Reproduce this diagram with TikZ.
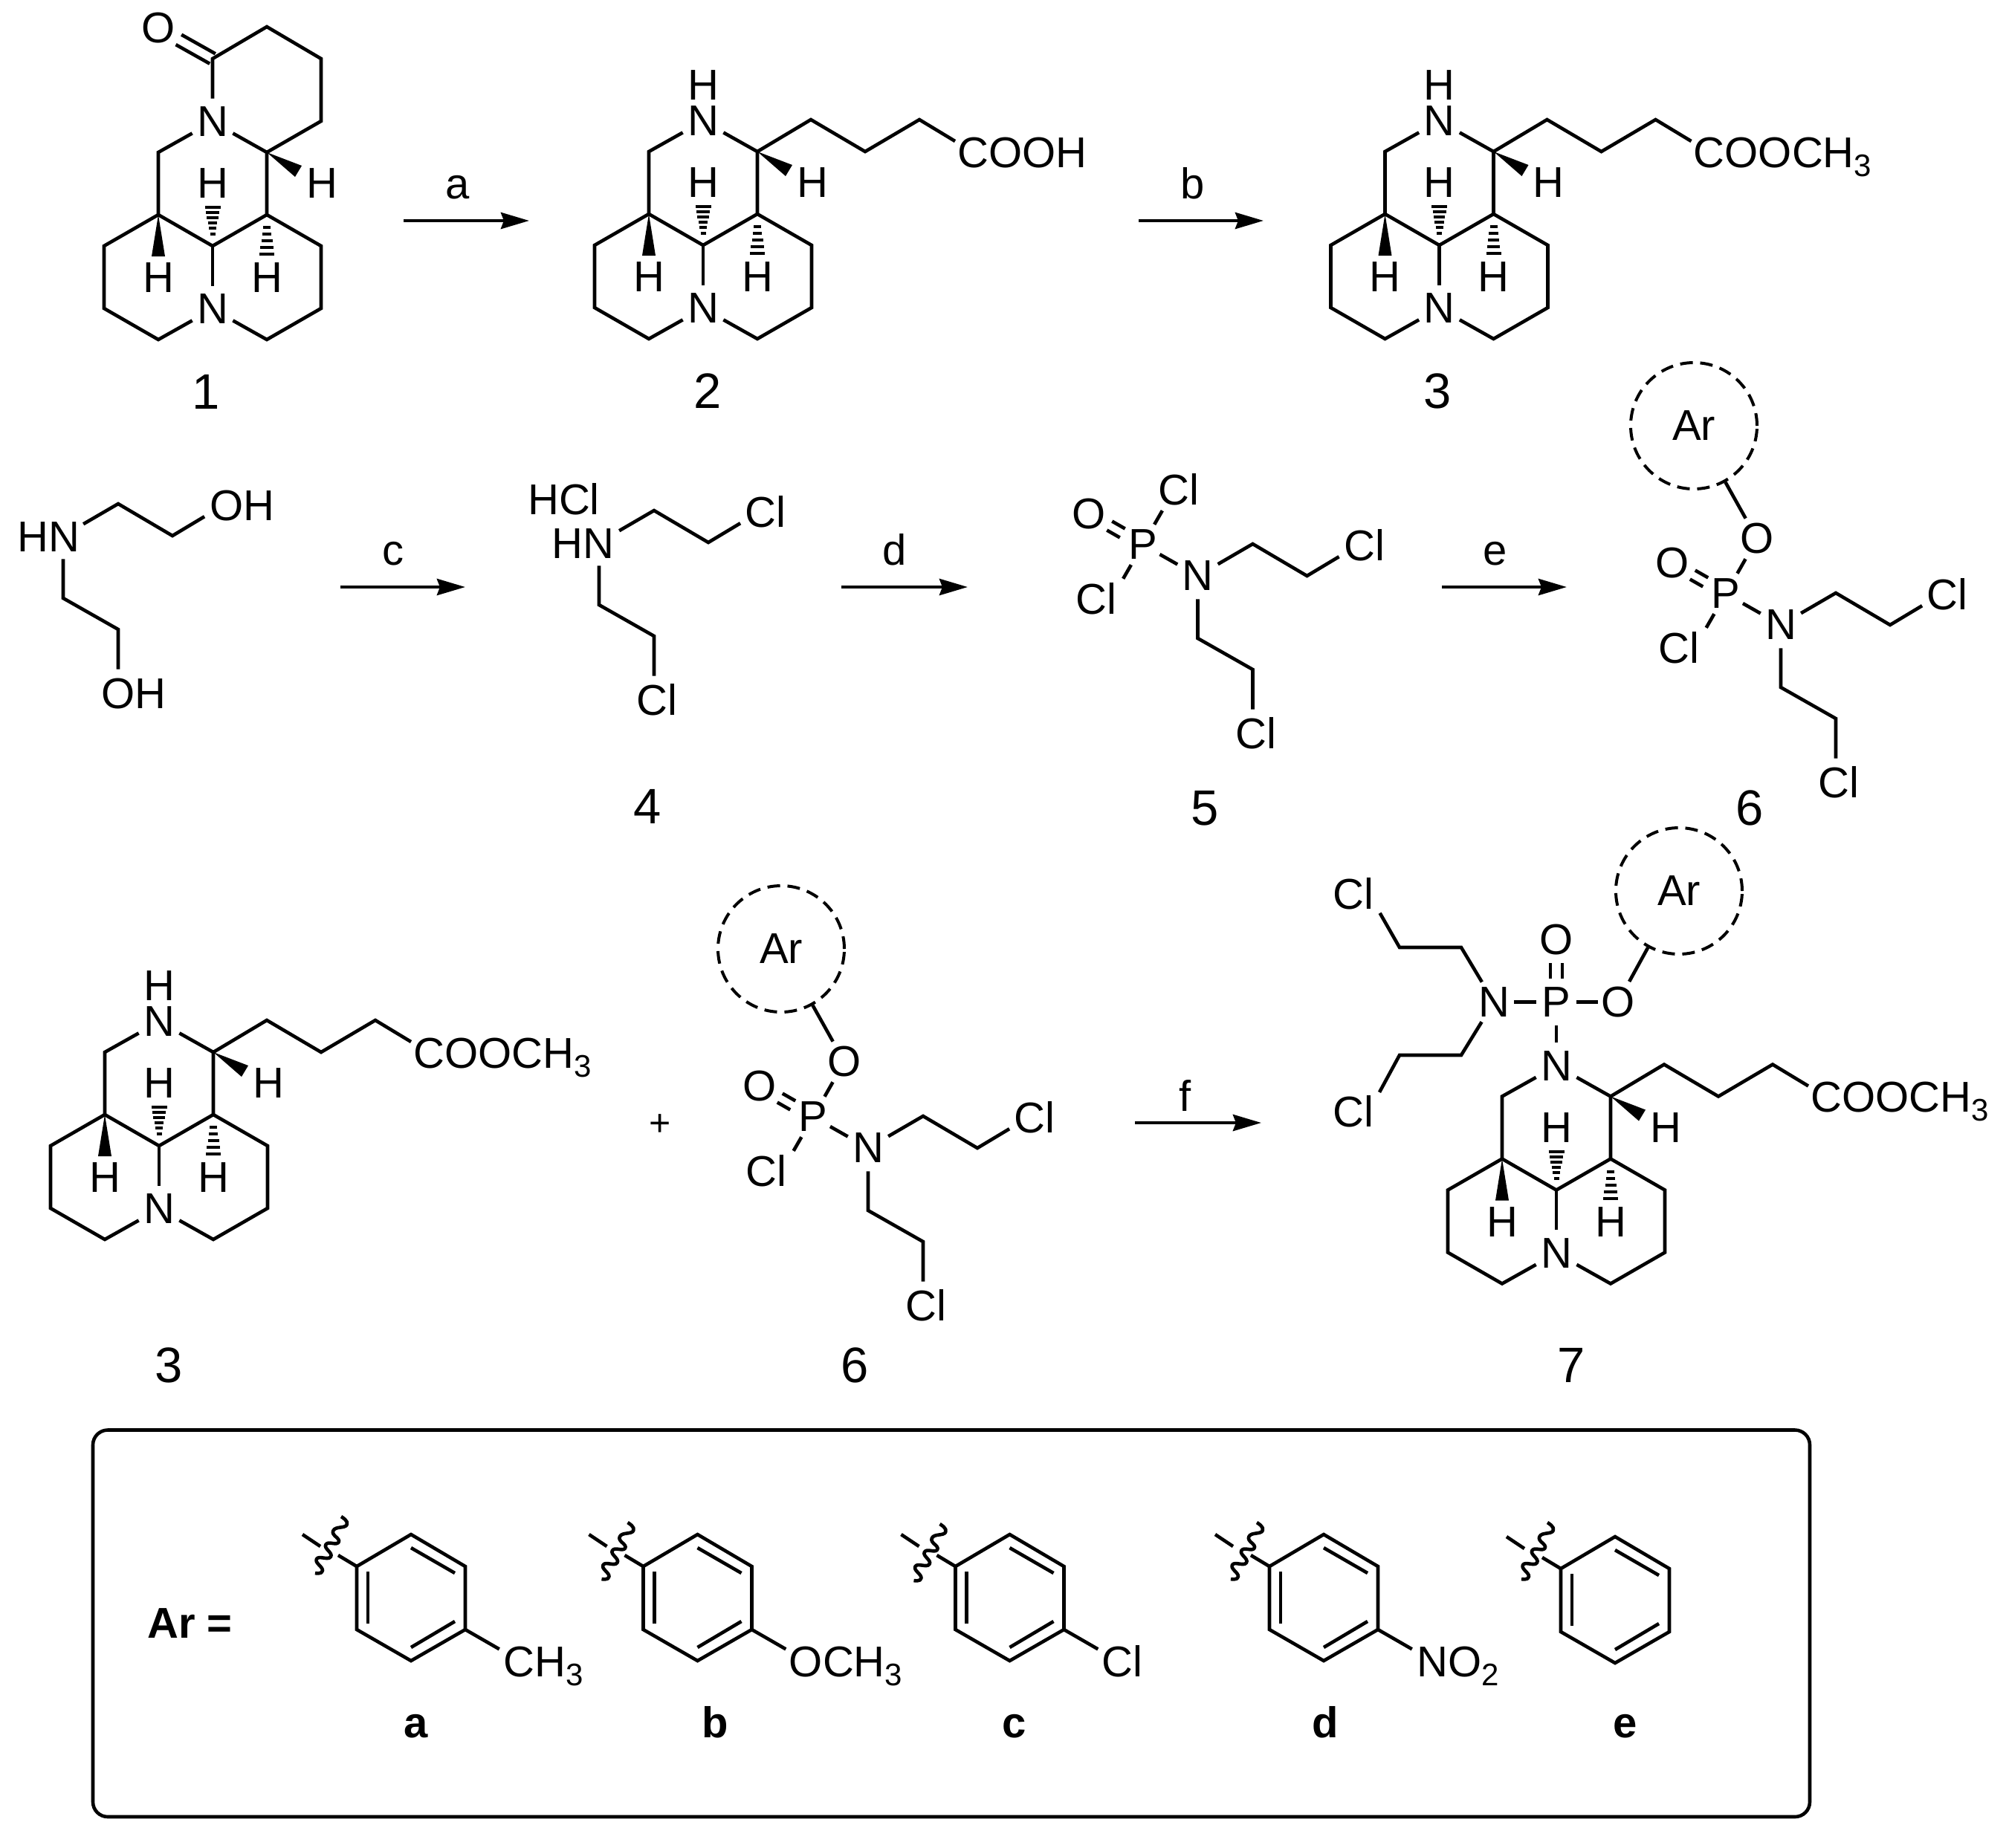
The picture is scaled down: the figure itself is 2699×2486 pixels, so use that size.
\documentclass[tikz,border=0pt]{standalone}
\usepackage{fontspec}
\setmainfont{Liberation Sans}
\usetikzlibrary{arrows.meta,calc}
\newcommand{\atomfont}{\fontsize{29}{30}\selectfont}
\newcommand{\numfont}{\fontsize{33.5}{34}\selectfont}
\newcommand{\boldfont}{\fontsize{29}{30}\selectfont\bfseries}
\newcommand{\subs}[1]{\raisebox{-6pt}{\fontsize{21}{22}\selectfont #1}}
\tikzset{
  bond/.style={line width=2.3pt,line join=miter,line cap=butt},
  hashline/.style={line width=2pt},
  atom/.style={circle,inner sep=0pt,minimum size=31pt,font=\atomfont},
  site/.style={circle,inner sep=0pt,minimum size=31pt},
  lbl/.style={inner sep=0pt,font=\atomfont},
  num/.style={inner sep=0pt,font=\numfont,anchor=base},
  boldlbl/.style={inner sep=0pt,font=\boldfont,anchor=base},
  arcirc/.style={circle,draw,inner sep=0pt,minimum size=85pt,font=\atomfont,line width=2pt,dash pattern=on 8.5pt off 5pt},
  rxn/.style={line width=2.3pt,-{Stealth[length=19pt,width=11pt,inset=2pt]}},
  panel/.style={draw,rounded corners=10pt,line width=2.3pt,minimum width=1155pt,minimum height=260.25pt,inner sep=0pt},
}
% tricyclic skeleton, origin at the central carbon
\newcommand{\skel}[1]{%
  \coordinate (#1cc) at (0,0);
  \coordinate (#1bl) at (-73,-42);
  \coordinate (#1br) at (73,-42);
  \coordinate (#1cl) at (-73,-126);
  \coordinate (#1cr) at (73,-126);
  \coordinate (#1l1) at (-146,0);
  \coordinate (#1l2) at (-146,84);
  \coordinate (#1l3) at (-73,126);
  \coordinate (#1r3) at (73,126);
  \coordinate (#1r2) at (146,84);
  \coordinate (#1r1) at (146,0);
  \node[atom] (#1nb) at (0,85) {N};
  \node[atom] (#1nt) at (0,-167) {N};
  \draw[bond] (#1nt) -- (#1cl) -- (#1bl) -- (#1l1) -- (#1l2) -- (#1l3) -- (#1nb);
  \draw[bond] (#1nb) -- (#1r3) -- (#1r2) -- (#1r1) -- (#1br) -- (#1cr) -- (#1nt);
  \draw[bond] (#1bl) -- (#1cc) -- (#1br);
  \draw[bond] (#1cc) -- (#1nb);
  \fill (#1cr) -- ++(47,18) -- ++(-9,15) -- cycle;
  \fill (#1bl) -- ++(-9,56) -- ++(18,0) -- cycle;
  \foreach \yy/\hw in {-52/10.5,-45/9,-38/7.7,-31/6.3,-24/5,-16/3.5}
    \draw[hashline] ($(#1cc)+(-\hw,\yy)$) -- ($(#1cc)+(\hw,\yy)$);
  \foreach \yy/\hw in {17/5,26/6.2,35/7.5,44/8.8,53/10}
    \draw[hashline] ($(#1br)+(-\hw,\yy)$) -- ($(#1br)+(\hw,\yy)$);
  \node[lbl] (#1ha) at (0,-84) {H};
  \node[lbl] (#1hb) at (147,-84) {H};
  \node[lbl] (#1hc) at (-73,43) {H};
  \node[lbl] (#1hd) at (73,43) {H};
}
% four-carbon side chain on the ring carbon cr
\newcommand{\sidechain}[2]{%
  \coordinate (#1c1) at (145,-169);
  \coordinate (#1c2) at (218,-126);
  \coordinate (#1c3) at (291,-169);
  \coordinate (#1ce) at (339,-140);
  \draw[bond] (#1cr) -- (#1c1) -- (#1c2) -- (#1c3) -- (#1ce);
  \node[lbl,anchor=base west] (#1tail) at (342,-105) {#2};
}
% the two chloroethyl-type arms on a nitrogen node (#1n), origin at that nitrogen
\newcommand{\arms}[5]{%
  \coordinate (#1a1) at (74,-43);
  \coordinate (#1a2) at (147,0);
  \node[site] (#1as) at (217,-42) {};
  \coordinate (#1b1) at (0,84);
  \coordinate (#1b2) at (74,126);
  \node[site] (#1bs) at (74,211) {};
  \draw[bond] (#1n) -- (#1a1) -- (#1a2) -- (#1as);
  \draw[bond] (#1n) -- (#1b1) -- (#1b2) -- (#1bs);
  \node[lbl,anchor=base] (#1at) at (#3,-21) {#2};
  \node[lbl,anchor=base] (#1bt) at (#5,232) {#4};
}
% phosphoryl core, origin at P
\newcommand{\pcore}[1]{%
  \node[atom] (#1p) at (0,0) {P};
  \node[atom] (#1o) at (-72,-41) {O};
  \node[site] (#1cs) at (-42,73) {};
  \node[lbl] (#1ct) at (-63,73) {Cl};
  \draw[bond,transform canvas={shift={(3.5,-6)}}] (#1p) -- (#1o);
  \draw[bond,transform canvas={shift={(-3.5,6)}}] (#1p) -- (#1o);
  \draw[bond] (#1p) -- (#1cs);
  \begin{scope}[shift={(74,42)}]
    \node[atom] (#1n) at (0,0) {N};
    \arms{#1}{Cl}{224}{Cl}{78}
  \end{scope}
  \draw[bond,shorten <=-2.5pt] (#1p) -- (#1n);
}
% Ar-O-phosphoryl compound 6, origin at P
\newcommand{\csix}[1]{%
  \pcore{#1}
  \node[atom] (#1e) at (42,-74) {O};
  \node[arcirc] (#1ar) at (-43,-226) {Ar};
  \draw[bond] (#1p) -- (#1e);
  \draw[bond] (#1e) -- (#1ar);
}
% aryl ring with the cut mark, origin at ring centre
\newcommand{\benz}[3]{%
  \coordinate (#1t) at (0,-85);
  \coordinate (#1ur) at (73,-42);
  \coordinate (#1lr) at (73,43);
  \coordinate (#1bt) at (0,85);
  \coordinate (#1ll) at (-73,43);
  \coordinate (#1ul) at (-73,-42);
  \draw[bond] (#1t) -- (#1ur) -- (#1lr) -- (#1bt) -- (#1ll) -- (#1ul) -- cycle;
  \coordinate (#1i1) at (-58,-35);
  \coordinate (#1i2) at (-58,35);
  \coordinate (#1i3) at (0,-67);
  \coordinate (#1i4) at (59,-33);
  \coordinate (#1i5) at (0,67);
  \coordinate (#1i6) at (59,32);
  \draw[bond] (#1i1) -- (#1i2);
  \draw[bond] (#1i3) -- (#1i4);
  \draw[bond] (#1i5) -- (#1i6);
  \coordinate (#1k1) at (-98,-57);
  \coordinate (#1k2) at (-146,-85);
  \coordinate (#1k3) at (-122,-69);
  \draw[bond] (#1ul) -- (#1k1);
  \draw[bond] (#1k2) -- (#1k3);
  \begin{scope}[shift={(-94+#2,-109+#3)}]
    \draw[bond,line join=round] plot[smooth,tension=1] coordinates
      {(0,0) (7.7,11) (-10.7,19) (-3.3,34.3) (-20.7,37.7) (-14,54) (-33,57) (-25,72.7) (-35,76)};
  \end{scope}
}
\begin{document}
\begin{tikzpicture}[x=0.5pt,y=-0.5pt]
\useasboundingbox (0,0) rectangle (2699,2486);

% ---- compound 1
\begin{scope}[shift={(286,331)}]
  \skel{A}
  \coordinate (Ac) at (0,-252);
  \coordinate (At) at (73,-295);
  \coordinate (Au) at (146,-252);
  \coordinate (Av) at (146,-168);
  \node[atom] (Ao) at (-73,-293) {O};
  \draw[bond] (Ant) -- (Ac) -- (At) -- (Au) -- (Av) -- (Acr);
  \draw[bond,transform canvas={shift={(3.8,-6.7)}}] (Ac) -- (Ao);
  \draw[bond,transform canvas={shift={(-3.8,6.7)}}] (Ac) -- (Ao);
\end{scope}
\node[num] (n1) at (277,550) {1};

% ---- compound 2
\begin{scope}[shift={(946,330)}]
  \skel{B}
  \sidechain{B}{COOH}
  \node[lbl] (Bh) at (0,-215) {H};
\end{scope}
\node[num] (n2) at (952,549) {2};

% ---- compound 3
\begin{scope}[shift={(1936.5,330)}]
  \skel{C}
  \sidechain{C}{COOCH\subs{3}}
  \node[lbl] (Ch) at (0,-215) {H};
\end{scope}
\node[num] (n3) at (1934,549) {3};

% ---- amine and compound 4
\begin{scope}[shift={(85,721)}]
  \node[site] (Dn) at (0,0) {};
  \node[lbl,anchor=base] (Dnt) at (-19.5,21) {HN};
  \arms{D}{OH}{241}{OH}{94.5}
\end{scope}
\begin{scope}[shift={(806,730)}]
  \node[site] (En) at (0,0) {};
  \node[lbl,anchor=base] (Ent) at (-21.5,21) {HN};
  \node[lbl,anchor=base] (Ehc) at (-47.5,-38) {HCl};
  \arms{E}{Cl}{224}{Cl}{78}
\end{scope}
\node[num] (n4) at (871,1108) {4};

% ---- compound 5
\begin{scope}[shift={(1537.5,733)}]
  \pcore{F}
  \node[site] (Fe) at (42,-73) {};
  \node[lbl] (Fet) at (48,-74) {Cl};
  \draw[bond] (Fp) -- (Fe);
\end{scope}
\node[num] (n5) at (1621,1110) {5};

% ---- compound 6
\begin{scope}[shift={(2322,799)}]
  \csix{G}
\end{scope}
\node[num] (n6) at (2354,1110) {6};

% ---- second compound 3, plus, second compound 6
\begin{scope}[shift={(214,1542)}]
  \skel{H}
  \sidechain{H}{COOCH\subs{3}}
  \node[lbl] (Hh) at (0,-215) {H};
\end{scope}
\node[num] (n3b) at (227,1860) {3};
\node[inner sep=0pt,font=\fontsize{25}{26}\selectfont] (plus) at (888,1514) {+};
\begin{scope}[shift={(1094,1503)}]
  \csix{I}
\end{scope}
\node[num] (n6b) at (1150,1860) {6};

% ---- compound 7
\begin{scope}[shift={(2094,1601.5)}]
  \skel{J}
  \sidechain{J}{COOCH\subs{3}}
  \node[atom] (Jp) at (0,-253) {P};
  \node[atom] (Jo) at (0,-337) {O};
  \node[atom] (Jm) at (-84,-253) {N};
  \node[atom] (Je) at (83,-253) {O};
  \node[arcirc] (Jar) at (165,-402.5) {Ar};
  \draw[bond,shorten <=-2pt,shorten >=-2pt] (Jm) -- (Jp);
  \draw[bond,shorten <=-2pt,shorten >=-2pt] (Jp) -- (Je);
  \draw[bond] (Jp) -- (Jnt);
  \draw[bond] (Je) -- (Jar);
  \draw[bond,transform canvas={shift={(8,0)}}] (Jp) -- (Jo);
  \draw[bond,transform canvas={shift={(-8,0)}}] (Jp) -- (Jo);
  \coordinate (Ju1) at (-128,-326.5);
  \coordinate (Ju2) at (-211,-326.5);
  \node[site] (Jus) at (-253,-400) {};
  \node[lbl] (Jut) at (-273,-398.5) {Cl};
  \coordinate (Jd1) at (-128,-181.5);
  \coordinate (Jd2) at (-211,-181.5);
  \node[site] (Jds) at (-253,-104) {};
  \node[lbl] (Jdt) at (-273,-105.5) {Cl};
  \draw[bond] (Jm) -- (Ju1) -- (Ju2) -- (Jus);
  \draw[bond] (Jm) -- (Jd1) -- (Jd2) -- (Jds);
\end{scope}
\node[num] (n7) at (2114,1860) {7};

% ---- reaction arrows
\coordinate (ra1) at (543,297);  \coordinate (ra2) at (712,297);
\coordinate (rb1) at (1532,297); \coordinate (rb2) at (1700,297);
\coordinate (rc1) at (458,790);  \coordinate (rc2) at (626,790);
\coordinate (rd1) at (1132,790); \coordinate (rd2) at (1302,790);
\coordinate (re1) at (1940,790); \coordinate (re2) at (2108,790);
\coordinate (rf1) at (1527,1511);\coordinate (rf2) at (1697,1511);
\draw[rxn] (ra1) -- (ra2);
\draw[rxn] (rb1) -- (rb2);
\draw[rxn] (rc1) -- (rc2);
\draw[rxn] (rd1) -- (rd2);
\draw[rxn] (re1) -- (re2);
\draw[rxn] (rf1) -- (rf2);
\node[lbl,anchor=base] (la) at (616,267) {a};
\node[lbl,anchor=base] (lb) at (1605,267) {b};
\node[lbl,anchor=base] (lc) at (529,760) {c};
\node[lbl,anchor=base] (ld) at (1204,760) {d};
\node[lbl,anchor=base] (le) at (2012,760) {e};
\node[lbl,anchor=base] (lf) at (1595,1495) {f};

% ---- Ar panel
\node[panel] (box) at (1280,2184.75) {};
\node[boldlbl,anchor=base west] (arq) at (198,2204.5) {Ar =};
\begin{scope}[shift={(553,2150)}]
  \benz{Ka}{0}{0}
  \node[site] (Kas) at (146,85) {};
  \draw[bond] (Kalr) -- (Kas);
  \node[lbl,anchor=base west] (Kat) at (124,106) {CH\subs{3}};
\end{scope}
\begin{scope}[shift={(938.5,2150)}]
  \benz{Kb}{0}{8}
  \node[site] (Kbs) at (146,85) {};
  \draw[bond] (Kblr) -- (Kbs);
  \node[lbl,anchor=base west] (Kbt) at (123,106) {OCH\subs{3}};
\end{scope}
\begin{scope}[shift={(1358.5,2150)}]
  \benz{Kc}{0}{10}
  \node[site] (Kcs) at (146,85) {};
  \draw[bond] (Kclr) -- (Kcs);
  \node[lbl,anchor=base west] (Kct) at (124,106) {Cl};
\end{scope}
\begin{scope}[shift={(1781,2150)}]
  \benz{Kd}{4}{8}
  \node[site] (Kds) at (146,85) {};
  \draw[bond] (Kdlr) -- (Kds);
  \node[lbl,anchor=base west] (Kdt) at (125.5,106) {NO\subs{2}};
\end{scope}
\begin{scope}[shift={(2173,2153)}]
  \benz{Ke}{3}{5}
\end{scope}
\node[boldlbl] (ca) at (559.5,2338) {a};
\node[boldlbl] (cb) at (962.6,2338) {b};
\node[boldlbl] (cc) at (1365,2338) {c};
\node[boldlbl] (cd) at (1783,2338) {d};
\node[boldlbl] (ce) at (2187,2338) {e};
\end{tikzpicture}
\end{document}
